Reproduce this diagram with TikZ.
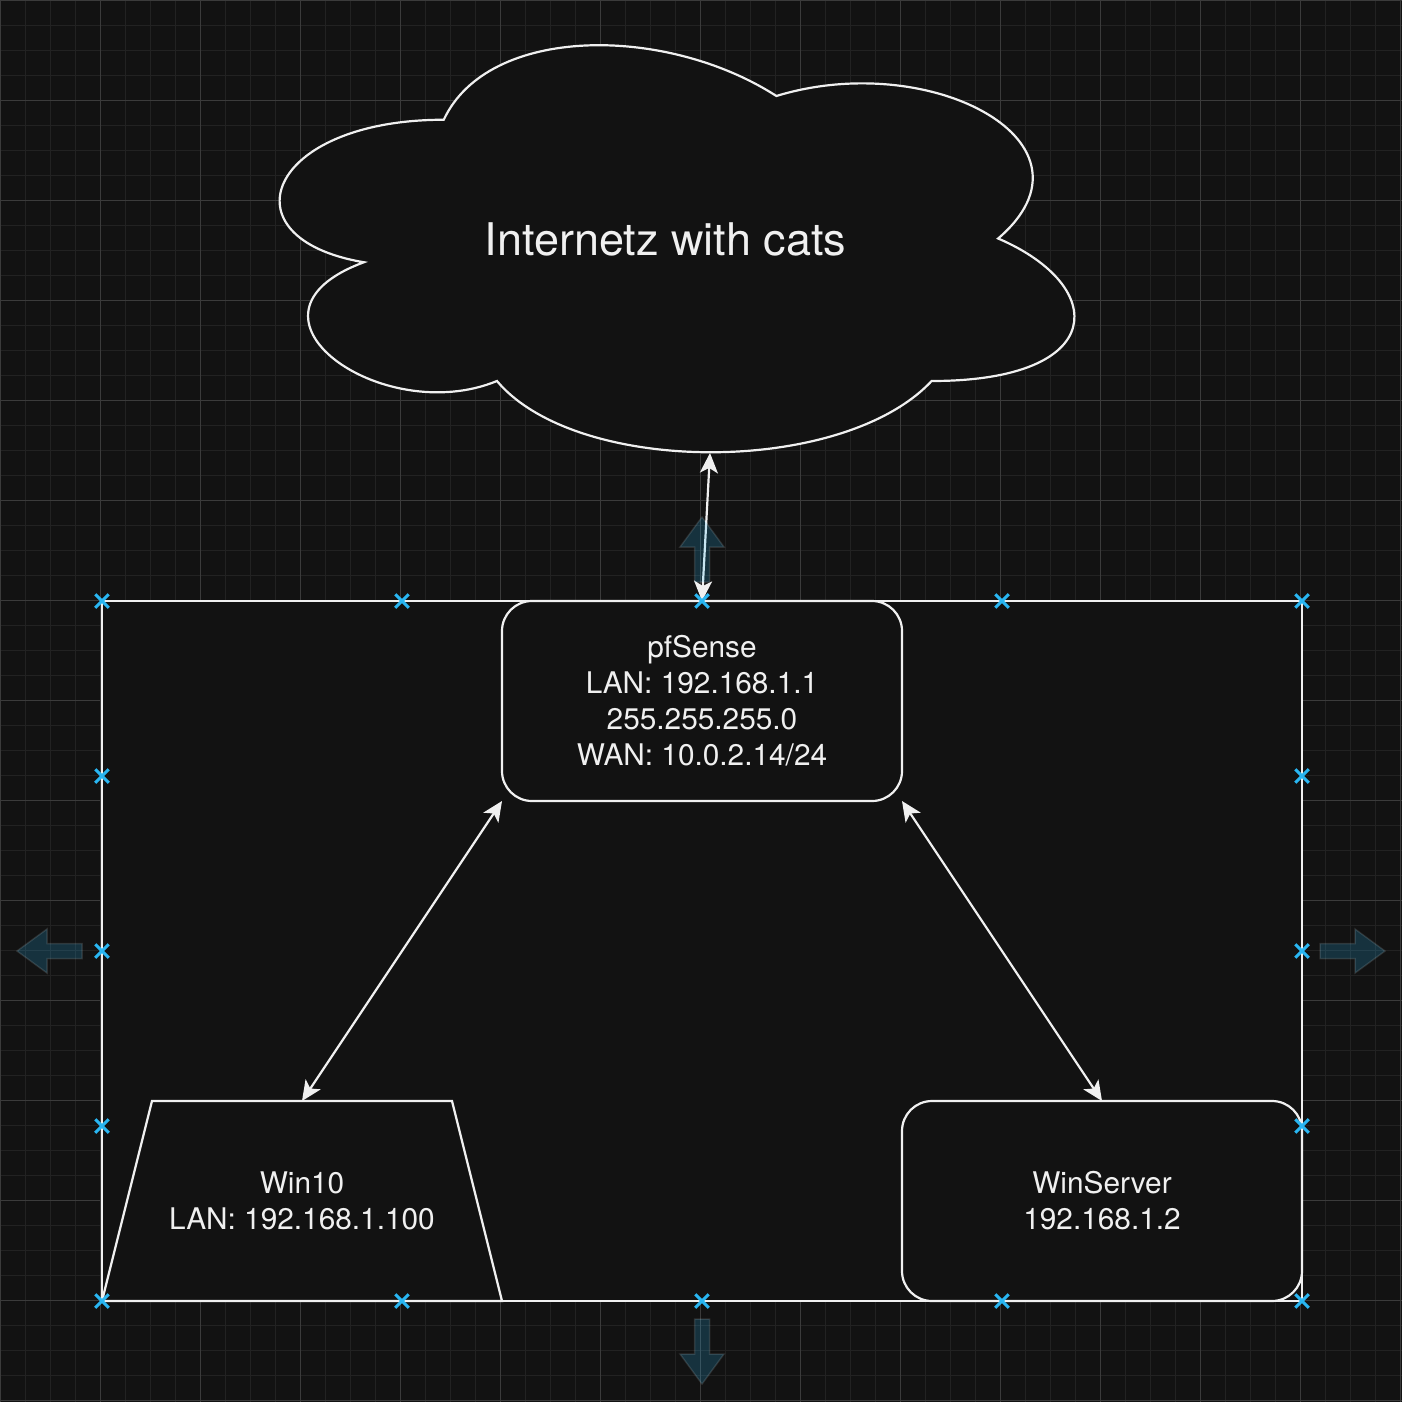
\documentclass[tikz,border=0pt]{standalone}
\usepackage{fontspec}
\setmainfont{TeX Gyre Heros}
\usetikzlibrary{positioning}
\usetikzlibrary{arrows.meta}
\usetikzlibrary{shapes.misc}

\definecolor{canvas}{HTML}{121212}
\definecolor{gridminor}{HTML}{222222}
\definecolor{gridmajor}{HTML}{3B3B3B}
\definecolor{ink}{HTML}{F0F0F0}
\definecolor{handleblue}{HTML}{29B6F2}

\begin{document}
\begin{tikzpicture}[%
  >={Stealth[length=20pt,width=18pt,inset=5pt]},
  x=1pt, y=-1pt,
  outline/.style={draw=ink, fill=canvas, line width=2.2pt},
  block/.style={outline, text=ink, align=center, outer sep=0pt, inner sep=0pt,
    minimum width=400pt, minimum height=200pt, font=\fontsize{29.8}{36}\selectfont},
  link/.style={<->, draw=ink, line width=2.2pt},
  handle/.style={cross out, draw=handleblue, line width=3pt, minimum size=10.5pt, inner sep=0pt},
  hover/.style={fill=handleblue, fill opacity=0.2, draw=white, draw opacity=0.12, line width=1.5pt},
]

  \useasboundingbox (0,0) rectangle (1402,1402);
  \fill[canvas] (0,0) rectangle (1402,1402);

  % grid
  \foreach \g in {0,25,...,1400} {
    \draw[gridminor, line width=1pt] (\g+0.5,0) -- (\g+0.5,1402);
    \draw[gridminor, line width=1pt] (0,\g+0.5) -- (1402,\g+0.5);
  }
  \foreach \g in {0,100,...,1400} {
    \draw[gridmajor, line width=1pt] (\g+0.5,0) -- (\g+0.5,1402);
    \draw[gridmajor, line width=1pt] (0,\g+0.5) -- (1402,\g+0.5);
  }

  % cloud
  \begin{scope}[shift={(222,1)}, x=887pt, y=-475pt]
    \draw[outline] (0.25,0.25) .. controls (0.05,0.25) and (0,0.5) .. (0.16,0.55)
      .. controls (0,0.66) and (0.18,0.9) .. (0.31,0.8)
      .. controls (0.4,1) and (0.7,1) .. (0.8,0.8)
      .. controls (1,0.8) and (1,0.6) .. (0.875,0.5)
      .. controls (1,0.3) and (0.8,0.1) .. (0.625,0.2)
      .. controls (0.5,0.05) and (0.3,0.05) .. (0.25,0.25) -- cycle;
  \end{scope}
  \node[text=ink, font=\fontsize{45}{54}\selectfont] (cloud) at (665.5,239) {Internetz with cats};
  \coordinate (cloudfoot) at (710,453);

  % lab frame and hosts
  \node[outline, outer sep=0pt, inner sep=0pt, minimum width=1200pt, minimum height=700pt] (lab) at (702,951) {};

  \node[block, rounded corners=30pt] (pfsense) at (702,701)
    {pfSense\\LAN: 192.168.1.1\\255.255.255.0\\WAN: 10.0.2.14/24};
  \draw[outline] (102,1301) -- (152,1101) -- (452,1101) -- (502,1301) -- cycle;
  \node[block, draw=none, fill=none] (win10) at (302,1201)
    {Win10\\LAN: 192.168.1.100};
  \node[block, rounded corners=30pt] (winserver) at (1102,1201)
    {WinServer\\192.168.1.2};

  \draw[link] (pfsense.north) -- (cloudfoot);
  \draw[link] (pfsense.south west) -- (win10.north);
  \draw[link] (pfsense.south east) -- (winserver.north);

  % connection points
  \foreach \hx/\hy [count=\k] in {102/601, 402/601, 702/601, 1002/601, 1302/601,
      102/776, 1302/776, 102/951, 1302/951, 102/1126, 1302/1126,
      102/1301, 402/1301, 702/1301, 1002/1301, 1302/1301}
    \node[handle] (hdl\k) at (\hx,\hy) {};

  % hover arrows
  \foreach \ax/\ay/\rot in {1320/951/0, 82/951/180, 702/582/90, 702/1319/-90}
    \path[hover, shift={(\ax,\ay)}, rotate=\rot]
      (0,-7.5) -- (35,-7.5) -- (35,-22) -- (65,0) -- (35,22) -- (35,7.5) -- (0,7.5) -- cycle;

\end{tikzpicture}
\end{document}
